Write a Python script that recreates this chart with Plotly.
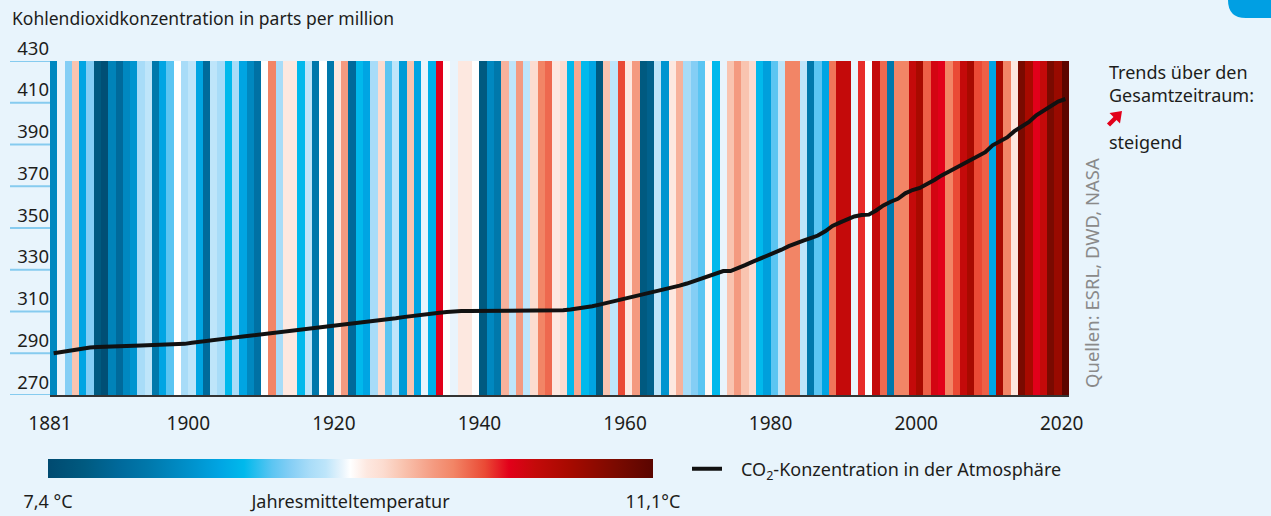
import plotly.graph_objects as go

years = list(range(1881, 2021))

# annual mean temperature (°C)
temps = [
    8.18, 9.20, 8.88, 9.57, 8.45, 8.88, 7.62, 7.47, 8.12, 7.84,   # 1881-1890
    8.18, 8.31, 9.00, 9.10, 8.01, 8.45, 8.77, 9.25, 9.00, 9.10,   # 1891-1900
    8.45, 7.84, 9.10, 9.00, 8.60, 9.00, 8.45, 8.18, 7.93, 9.25,   # 1901-1910
    9.88, 9.00, 9.35, 9.35, 8.60, 9.10, 8.01, 9.25, 8.01, 9.35,   # 1911-1920
    9.76, 7.84, 8.60, 8.45, 9.00, 9.45, 8.77, 9.10, 8.36, 9.57,   # 1921-1930
    8.45, 9.20, 8.53, 10.22, 9.25, 9.20, 9.35, 9.35, 9.25, 7.62,  # 1931-1940
    8.18, 8.01, 9.65, 9.10, 9.76, 9.10, 9.45, 9.88, 9.97, 9.35,   # 1941-1950
    9.45, 8.60, 9.70, 8.60, 8.45, 7.62, 9.57, 9.10, 10.07, 9.35,  # 1951-1960
    9.76, 7.62, 7.72, 9.10, 8.31, 9.35, 9.65, 9.00, 8.88, 8.77,   # 1961-1970
    9.28, 8.60, 9.20, 9.57, 9.76, 9.57, 9.45, 8.60, 8.40, 8.77,   # 1971-1980
    9.10, 9.88, 9.88, 9.10, 8.01, 8.77, 8.45, 9.93, 10.38, 10.38, # 1981-1990
    9.20, 10.13, 9.25, 10.38, 9.97, 8.01, 9.88, 9.88, 10.38, 10.58,  # 1991-2000
    10.00, 10.30, 10.22, 9.88, 10.07, 10.38, 10.58, 10.07, 10.00, 8.45,  # 2001-2010
    10.58, 9.88, 9.35, 10.88, 10.58, 10.22, 10.38, 10.88, 10.68, 11.08,  # 2011-2020
]

# CO2 concentration (ppm)
co2 = [
    290.0, 290.6, 291.2, 291.8, 292.3, 292.7, 293.0, 293.2, 293.3, 293.4,  # 1881-1890
    293.5, 293.6, 293.7, 293.8, 293.9, 294.0, 294.1, 294.2, 294.5, 295.0,  # 1891-1900
    295.5, 295.9, 296.3, 296.7, 297.1, 297.6, 298.0, 298.4, 298.8, 299.2,  # 1901-1910
    299.6, 300.0, 300.4, 300.8, 301.2, 301.6, 302.0, 302.4, 302.8, 303.2,  # 1911-1920
    303.6, 304.0, 304.4, 304.8, 305.3, 305.8, 306.3, 306.8, 307.3, 307.8,  # 1921-1930
    308.2, 308.6, 309.0, 309.4, 309.8, 310.1, 310.2, 310.2, 310.2, 310.2,  # 1931-1940
    310.2, 310.2, 310.2, 310.2, 310.2, 310.2, 310.2, 310.2, 310.2, 310.3,  # 1941-1950
    310.6, 311.0, 311.4, 311.8, 312.5, 313.3, 314.1, 315.0, 315.9, 316.8,  # 1951-1960
    317.6, 318.4, 319.2, 319.9, 320.6, 321.4, 322.4, 323.4, 324.6, 325.6,  # 1961-1970
    326.6, 328.0, 329.4, 329.4, 330.6, 332.2, 333.8, 335.2, 336.4, 337.9,  # 1971-1980
    339.6, 341.3, 342.8, 344.0, 345.2, 346.4, 348.4, 351.0, 352.6, 354.2,  # 1981-1990
    355.5, 356.2, 356.4, 358.4, 360.8, 362.6, 364.0, 366.6, 368.2, 369.2,  # 1991-2000
    371.0, 373.0, 375.2, 377.0, 378.8, 380.8, 382.5, 384.3, 386.3, 389.6,  # 2001-2010
    391.4, 393.4, 396.4, 398.6, 400.8, 404.0, 406.2, 408.0, 410.6, 411.8,  # 2011-2020
]

x_ticks = [1881, 1900, 1920, 1940, 1960, 1980, 2000, 2020]
y_ticks = [270, 290, 310, 330, 350, 370, 390, 410, 430]
t_min, t_max = 7.4, 11.1
cbar_labels = ["7,4 °C", "Jahresmitteltemperatur", "11,1°C"]

colorscale = [
    [0.00, "#004a70"], [0.06, "#005a80"], [0.12, "#006a9c"], [0.165, "#0078ab"],
    [0.21, "#0088c0"], [0.245, "#0095d0"], [0.284, "#00a5e3"], [0.324, "#00b9ec"],
    [0.37, "#5bc5f2"], [0.40, "#84cef5"], [0.432, "#a8dcf8"], [0.459, "#bde5fa"],
    [0.486, "#e8f4fc"], [0.50, "#ffffff"], [0.527, "#fde8e0"], [0.554, "#fcdcd0"],
    [0.586, "#f9c4b0"], [0.638, "#f49a80"], [0.67, "#f28566"], [0.722, "#ea4a35"],
    [0.762, "#e2001a"], [0.805, "#c40a0a"], [0.86, "#a80a00"], [0.94, "#7a0a00"],
    [1.00, "#5a0500"],
]

W, H = 1271, 516
ML, MR, MT, MB = 50, 202, 61, 121
PW, PH = W - ML - MR, H - MT - MB


def px(xp):
    return (xp - ML) / PW


def py(yp):
    return (H - MB - yp) / PH


BG = "#e8f4fc"
TXT = "#1d1d1b"
FONT = "Noto Sans"
GRID = "#86cbef"
RED = "#e2001a"

fig = go.Figure()

fig.add_trace(go.Heatmap(
    x=years, y=[y_ticks[0], y_ticks[-1]], z=[temps],
    zmin=t_min, zmax=t_max, colorscale=colorscale,
    hoverinfo="skip", showlegend=False,
    colorbar=dict(
        orientation="h", x=px(350.5), xanchor="center",
        y=py(459), yanchor="top", yref="paper",
        lenmode="pixels", len=605, thicknessmode="pixels", thickness=19,
        outlinewidth=0, xpad=0, ypad=0,
        tickvals=[t_min, (t_min + t_max) / 2, t_max], ticktext=cbar_labels,
        ticks="outside", ticklen=9, tickcolor="rgba(0,0,0,0)",
        tickfont=dict(family=FONT, size=18, color=TXT),
    ),
))

fig.add_trace(go.Scatter(
    x=years, y=co2, mode="lines",
    line=dict(color="#111111", width=4),
    name="\u00a0\u00a0\u00a0CO<sub>2</sub>-Konzentration in der Atmosphäre",
    hoverinfo="skip", showlegend=True,
))

shapes = []
for v in y_ticks:
    shapes.append(dict(
        type="line", xref="paper", yref="y",
        x0=px(10), x1=(1 if v == y_ticks[-1] else 0), y0=v, y1=v,
        line=dict(color=GRID, width=2), layer="below",
    ))
# blue corner tab at top right
shapes.append(dict(
    type="path", xref="paper", yref="paper",
    path=(f"M {px(1228)},{py(-5)} L {px(1280)},{py(-5)} L {px(1280)},{py(18)} "
          f"L {px(1246)},{py(18)} Q {px(1228)},{py(18)} {px(1228)},{py(0)} Z"),
    fillcolor="#009fe3", line=dict(width=0), layer="above",
))
# red "rising" arrow icon
shapes.append(dict(
    type="line", xref="paper", yref="paper",
    x0=px(1108.5), y0=py(125), x1=px(1116), y1=py(117.5),
    line=dict(color=RED, width=4.5), layer="above",
))
shapes.append(dict(
    type="path", xref="paper", yref="paper",
    path=(f"M {px(1122)},{py(111)} L {px(1109.5)},{py(113)} "
          f"L {px(1120)},{py(123.5)} Z"),
    fillcolor=RED, line=dict(width=0), layer="above",
))

annotations = [
    dict(text="Kohlendioxidkonzentration in parts per million",
         x=px(10), y=py(18), xref="paper", yref="paper",
         xanchor="left", yanchor="middle", showarrow=False,
         font=dict(family=FONT, size=17.5, color=TXT)),
    dict(text="Trends über den", x=px(1107), y=py(72), xref="paper", yref="paper",
         xanchor="left", yanchor="middle", showarrow=False,
         font=dict(family=FONT, size=18, color=TXT)),
    dict(text="Gesamtzeitraum:", x=px(1107), y=py(95), xref="paper", yref="paper",
         xanchor="left", yanchor="middle", showarrow=False,
         font=dict(family=FONT, size=18, color=TXT)),
    dict(text="steigend", x=px(1107), y=py(142), xref="paper", yref="paper",
         xanchor="left", yanchor="middle", showarrow=False,
         font=dict(family=FONT, size=18, color=TXT)),
    dict(text="Quellen: ESRL, DWD, NASA", x=px(1091), y=py(273),
         xref="paper", yref="paper", textangle=-90, showarrow=False,
         xanchor="center", yanchor="middle",
         font=dict(family=FONT, size=18.5, color="#8a8a8a")),
]

fig.update_layout(
    width=W, height=H,
    margin=dict(l=ML, r=MR, t=MT, b=MB, pad=0, autoexpand=False),
    paper_bgcolor=BG, plot_bgcolor=BG,
    font=dict(family=FONT, color=TXT),
    shapes=shapes, annotations=annotations,
    showlegend=True,
    legend=dict(orientation="h", x=px(687), y=py(469), xanchor="left",
                yanchor="middle", bgcolor="rgba(0,0,0,0)",
                font=dict(family=FONT, size=18, color=TXT)),
    xaxis=dict(
        range=[years[0] - 0.5, years[-1] + 0.5],
        tickvals=[t - 0.5 for t in x_ticks], ticktext=[str(t) for t in x_ticks],
        showgrid=False, zeroline=False, ticks="",
        showline=True, linecolor="#333333", linewidth=2,
        tickfont=dict(family=FONT, size=19, color=TXT),
        ticklabelstandoff=10, fixedrange=True,
    ),
    yaxis=dict(
        range=[y_ticks[0], y_ticks[-1]], tickvals=y_ticks,
        showgrid=False, zeroline=False, ticks="", showline=False,
        ticklabelposition="outside top",
        tickfont=dict(family=FONT, size=18.5, color=TXT),
        fixedrange=True,
    ),
)

fig.write_html("out.html", config={"displayModeBar": False},
               post_script="document.body.style.margin='0px';")
